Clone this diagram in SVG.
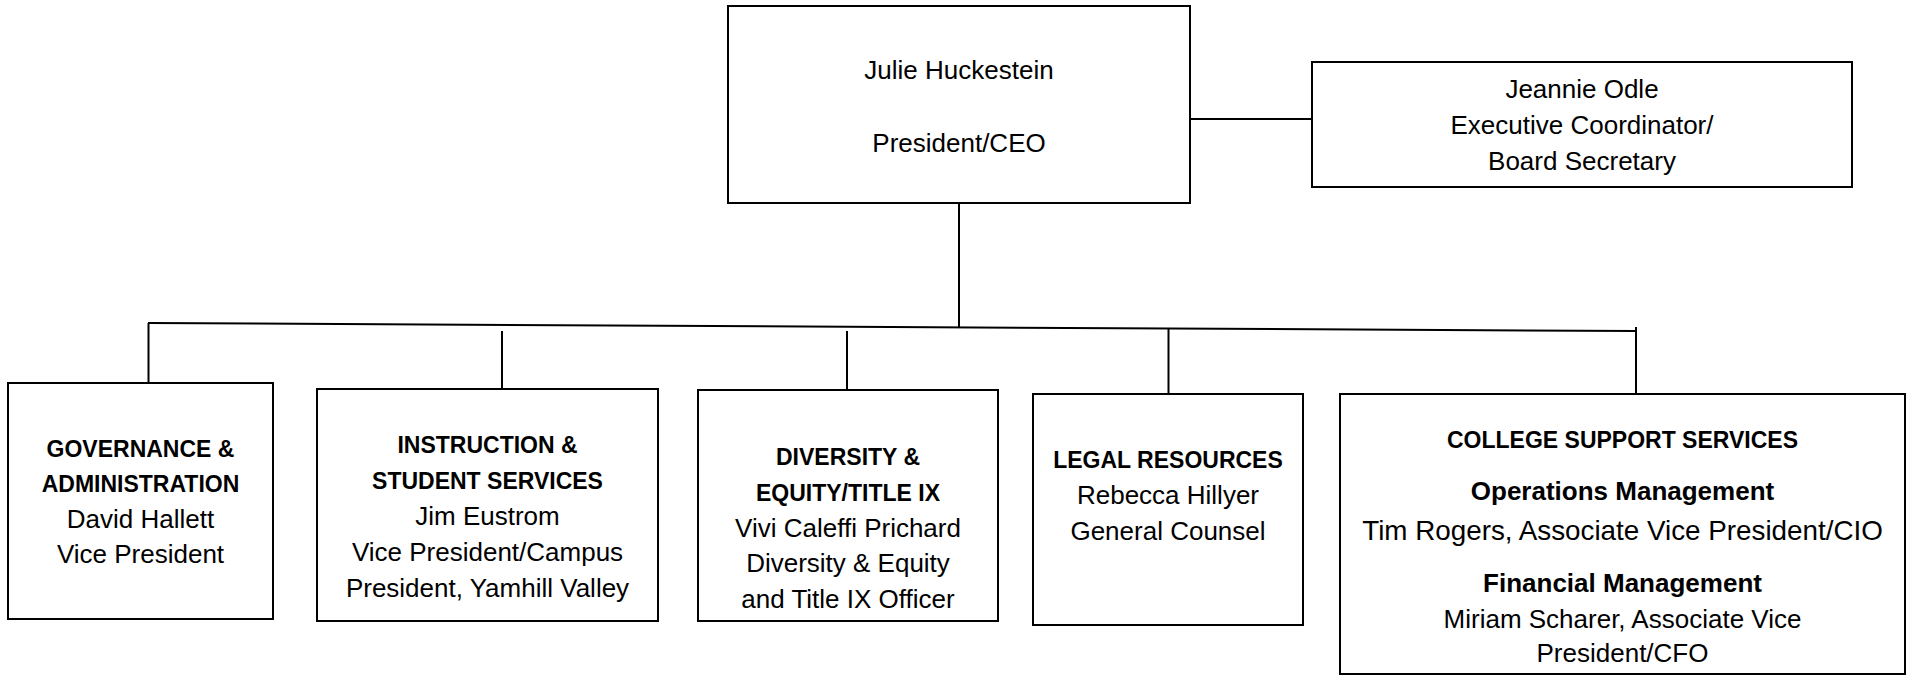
<svg xmlns="http://www.w3.org/2000/svg" width="1908" height="675" viewBox="0 0 1908 675">
<style>
.box{fill:#fff;stroke:#000;stroke-width:2}
.ln{stroke:#000;stroke-width:2;fill:none}
text{font-family:"Liberation Sans",Arial,sans-serif;fill:#000;text-anchor:middle}
.r{font-size:26px}
.rl{font-size:27.8px}
.h{font-size:23px;font-weight:bold}
.b{font-size:26px;font-weight:bold}
</style>
<rect width="1908" height="675" fill="#fff"/>
<g id="connectors">
<line class="ln" x1="959" y1="203" x2="959" y2="327"/>
<line class="ln" x1="1190" y1="119" x2="1312" y2="119"/>
<line class="ln" x1="148" y1="323" x2="1636" y2="331"/>
<line class="ln" x1="148.5" y1="323" x2="148.5" y2="383"/>
<line class="ln" x1="502" y1="331" x2="502" y2="389"/>
<line class="ln" x1="847" y1="331" x2="847" y2="390"/>
<line class="ln" x1="1168.5" y1="328.5" x2="1168.5" y2="394"/>
<line class="ln" x1="1636" y1="327" x2="1636" y2="394"/>
</g>
<g id="president">
<rect class="box" x="728" y="6" width="462" height="197"/>
<text class="r" x="959" y="79">Julie Huckestein</text>
<text class="r" x="959" y="152">President/CEO</text>
</g>
<g id="coordinator">
<rect class="box" x="1312" y="62" width="540" height="125"/>
<text class="r" x="1582" y="98">Jeannie Odle</text>
<text class="r" x="1582" y="134">Executive Coordinator/</text>
<text class="r" x="1582" y="170">Board Secretary</text>
</g>
<g id="governance">
<rect class="box" x="8" y="383" width="265" height="236"/>
<text class="h" x="140.5" y="457">GOVERNANCE &amp;</text>
<text class="h" x="140.5" y="492">ADMINISTRATION</text>
<text class="r" x="140.5" y="528">David Hallett</text>
<text class="r" x="140.5" y="563">Vice President</text>
</g>
<g id="instruction">
<rect class="box" x="317" y="389" width="341" height="232"/>
<text class="h" x="487.5" y="453">INSTRUCTION &amp;</text>
<text class="h" x="487.5" y="489">STUDENT SERVICES</text>
<text class="r" x="487.5" y="525">Jim Eustrom</text>
<text class="r" x="487.5" y="561">Vice President/Campus</text>
<text class="r" x="487.5" y="597">President, Yamhill Valley</text>
</g>
<g id="diversity">
<rect class="box" x="698" y="390" width="300" height="231"/>
<text class="h" x="848" y="465">DIVERSITY &amp;</text>
<text class="h" x="848" y="501">EQUITY/TITLE IX</text>
<text class="r" x="848" y="536.5">Vivi Caleffi Prichard</text>
<text class="r" x="848" y="572">Diversity &amp; Equity</text>
<text class="r" x="848" y="608">and Title IX Officer</text>
</g>
<g id="legal">
<rect class="box" x="1033" y="394" width="270" height="231"/>
<text class="h" x="1168" y="468">LEGAL RESOURCES</text>
<text class="r" x="1168" y="504">Rebecca Hillyer</text>
<text class="r" x="1168" y="540">General Counsel</text>
</g>
<g id="support">
<rect class="box" x="1340" y="394" width="565" height="280"/>
<text class="h" x="1622.5" y="448">COLLEGE SUPPORT SERVICES</text>
<text class="b" x="1622.5" y="500">Operations Management</text>
<text class="rl" x="1622.5" y="540">Tim Rogers, Associate Vice President/CIO</text>
<text class="b" x="1622.5" y="591.5">Financial Management</text>
<text class="r" x="1622.5" y="628">Miriam Scharer, Associate Vice</text>
<text class="r" x="1622.5" y="662">President/CFO</text>
</g>
</svg>
